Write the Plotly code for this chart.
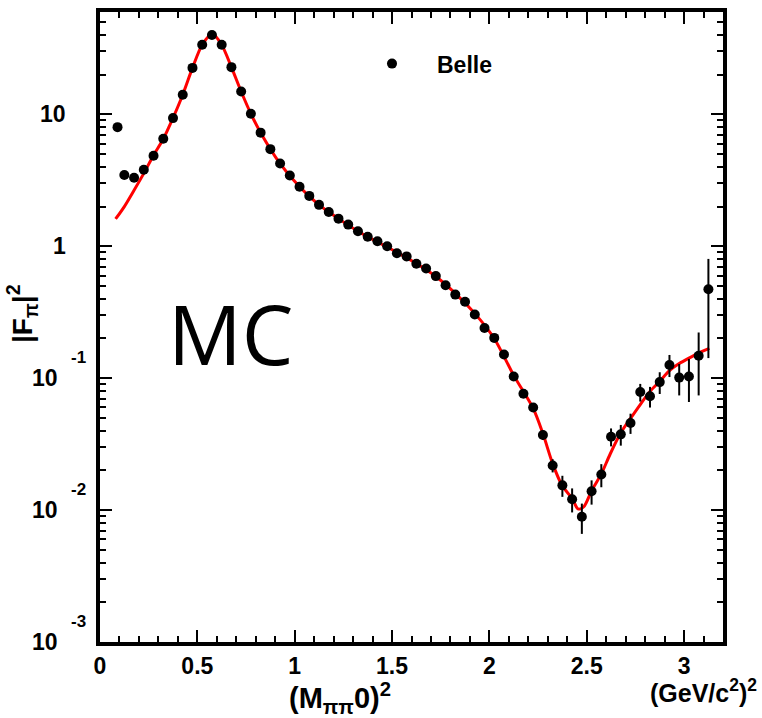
import math
import plotly.graph_objects as go

# Pion form factor |F_pi|^2 versus M^2(pi pi0), Belle measurement
mass2 = [0.09, 0.125, 0.175, 0.225, 0.275, 0.325, 0.375, 0.425, 0.475, 0.525,
         0.575, 0.625, 0.675, 0.725, 0.775, 0.825, 0.875, 0.925, 0.975, 1.025,
         1.075, 1.125, 1.175, 1.225, 1.275, 1.325, 1.375, 1.425, 1.475, 1.525,
         1.575, 1.625, 1.675, 1.725, 1.775, 1.825, 1.875, 1.925, 1.975, 2.025,
         2.075, 2.125, 2.175, 2.225, 2.275, 2.325, 2.375, 2.425, 2.475, 2.525,
         2.575, 2.625, 2.675, 2.725, 2.775, 2.825, 2.875, 2.925, 2.975, 3.025,
         3.075, 3.125]
ff2 = [8.0, 3.47, 3.31, 3.80, 4.85, 6.54, 9.37, 14.1, 22.5, 33.7,
       40.0, 33.7, 22.8, 14.9, 10.1, 7.27, 5.45, 4.24, 3.44, 2.83,
       2.41, 2.06, 1.82, 1.62, 1.46, 1.30, 1.18, 1.09, 1.00, 0.886,
       0.838, 0.736, 0.679, 0.594, 0.506, 0.430, 0.380, 0.304, 0.240, 0.202,
       0.151, 0.103, 0.0763, 0.0599, 0.0371, 0.0218, 0.0154, 0.0121, 0.0089, 0.0139,
       0.0186, 0.0360, 0.0375, 0.0458, 0.0785, 0.0729, 0.0934, 0.126, 0.101, 0.103,
       0.148, 0.472]
ff2_err = [0, 0, 0, 0, 0, 0, 0, 0, 0, 0,
           0, 0, 0, 0, 0, 0, 0, 0, 0, 0,
           0, 0, 0, 0, 0, 0, 0, 0, 0, 0,
           0, 0, 0, 0, 0, 0, 0, 0, 0, 0,
           0, 0, 0, 0, 0.003, 0.0025, 0.0028, 0.0025, 0.0023, 0.0029,
           0.0037, 0.0056, 0.0067, 0.008, 0.012, 0.013, 0.0175, 0.024, 0.027, 0.037,
           0.074, 0.33]

# Gounaris-Sakurai fit curve, sampled
fit_mass2 = [0.08, 0.125, 0.175, 0.225, 0.275, 0.325, 0.375, 0.425, 0.475, 0.525,
             0.577, 0.625, 0.675, 0.725, 0.775, 0.825, 0.925, 1.025, 1.125, 1.225,
             1.325, 1.425, 1.525, 1.625, 1.725, 1.825, 1.925, 2.025, 2.125, 2.225,
             2.275, 2.325, 2.375, 2.425, 2.455, 2.485, 2.525, 2.575, 2.62, 2.675,
             2.725, 2.775, 2.825, 2.875, 2.925, 2.975, 3.025, 3.075, 3.13]
fit_ff2 = [1.61, 2.0, 2.66, 3.57, 4.9, 6.5, 9.4, 14.1, 22.5, 33.7,
           40.9, 33.7, 22.8, 14.9, 10.1, 7.27, 4.24, 2.83, 2.06, 1.62,
           1.30, 1.08, 0.90, 0.74, 0.59, 0.44, 0.31, 0.20, 0.105, 0.059,
           0.038, 0.0225, 0.0152, 0.0123, 0.0102, 0.0106, 0.0140, 0.0188, 0.0265, 0.0385,
           0.0495, 0.0631, 0.0794, 0.0946, 0.114, 0.129, 0.142, 0.155, 0.168]

x_tick_vals = [0, 0.5, 1, 1.5, 2, 2.5, 3]
x_tick_text = ["0", "0.5", "1", "1.5", "2", "2.5", "3"]
y_tick_vals = [1e-3, 1e-2, 1e-1, 1, 10]
y_tick_base = ["10", "10", "10", "1", "10"]
y_tick_exp = ["-3", "-2", "-1", "", ""]

FONT = "Liberation Sans, Arial, Helvetica, sans-serif"

fig = go.Figure()
fig.add_trace(go.Scatter(
    x=fit_mass2, y=fit_ff2, mode="lines",
    line=dict(color="#ff0000", width=3, shape="spline", smoothing=0.8),
    showlegend=False, hoverinfo="skip"))
fig.add_trace(go.Scatter(
    x=mass2, y=ff2, mode="markers", name="Belle",
    marker=dict(color="black", size=10),
    error_y=dict(type="data", array=ff2_err, visible=True,
                 color="black", thickness=2, width=0)))

axis_common = dict(
    showline=True, linewidth=4, linecolor="black", mirror="ticks",
    ticks="inside", ticklen=12, tickwidth=1.5, tickcolor="black",
    showgrid=False, zeroline=False,
)

fig.update_xaxes(
    range=[0, 3.2], tickvals=x_tick_vals, ticktext=x_tick_text,
    tickfont=dict(family=FONT, size=23, color="black", weight="bold"),
    ticklabelstandoff=0,
    minor=dict(dtick=0.1, tick0=0, ticks="inside", ticklen=6, tickwidth=1.5,
               tickcolor="black", showgrid=False),
    **axis_common)
fig.update_yaxes(
    type="log", range=[-3, 1.776], tickvals=y_tick_vals, showticklabels=False,
    minor=dict(dtick="D1", ticks="inside", ticklen=6, tickwidth=1.5,
               tickcolor="black", showgrid=False),
    **axis_common)

annotations = []
# y-axis tick labels: "10" with a raised exponent
for val, base, exp in zip(y_tick_vals, y_tick_base, y_tick_exp):
    y_log = math.log10(val)
    annotations.append(dict(
        x=0, xref="paper", y=y_log, yref="y", text=base, showarrow=False,
        xanchor="right", yanchor="middle", xshift=-40 if exp else -32,
        font=dict(family=FONT, size=23, color="black", weight="bold")))
    if exp:
        annotations.append(dict(
            x=0, xref="paper", y=y_log, yref="y", text=exp, showarrow=False,
            xanchor="left", yanchor="middle", xshift=-31, yshift=21,
            font=dict(family=FONT, size=17, color="black", weight="bold")))

annotations += [
    dict(x=(340 - 100) / 623, y=(642 - 698) / 634, xref="paper", yref="paper",
         text="(M<sub>ππ</sub>0)<sup>2</sup>", showarrow=False,
         xanchor="center", yanchor="middle",
         font=dict(family=FONT, size=29, color="black", weight="bold")),
    dict(x=(759 - 100) / 623, y=(642 - 691) / 634, xref="paper", yref="paper",
         text="(GeV/c<sup>2</sup>)<sup>2</sup>", showarrow=False,
         xanchor="right", yanchor="middle",
         font=dict(family=FONT, size=25, color="black", weight="bold")),
    dict(x=(22 - 100) / 623, y=(642 - 311) / 634, xref="paper", yref="paper",
         text="|F<sub>π</sub>|<sup>2</sup>", showarrow=False, textangle=-90,
         xanchor="center", yanchor="middle",
         font=dict(family=FONT, size=28, color="black", weight="bold")),
    dict(x=(230 - 100) / 623, y=(642 - 331) / 634, xref="paper", yref="paper",
         text="MC", showarrow=False, xanchor="center", yanchor="middle",
         font=dict(family="Open Sans, sans-serif", size=82, color="black")),
]

fig.update_layout(
    width=762, height=718,
    margin=dict(l=100, r=39, t=8, b=76),
    paper_bgcolor="white", plot_bgcolor="white",
    font=dict(family=FONT, size=23, color="black"),
    showlegend=True,
    legend=dict(x=(347 - 100) / 623, y=(642 - 60) / 634,
                xanchor="left", yanchor="middle", itemwidth=80,
                bgcolor="rgba(0,0,0,0)", borderwidth=0,
                font=dict(family=FONT, size=23, color="black", weight="bold")),
    annotations=annotations,
)

fig.write_html("out.html")
